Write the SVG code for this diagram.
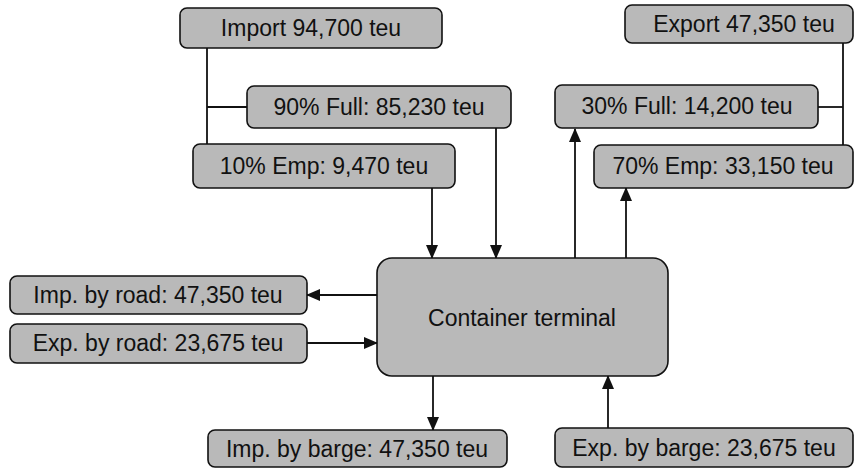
<svg xmlns="http://www.w3.org/2000/svg" width="855" height="469" viewBox="0 0 855 469">
<style>
.box{fill:#b9b9b9;stroke:#111;stroke-width:1.6}
.t{font-family:"Liberation Sans",Arial,sans-serif;font-size:23px;fill:#111;text-anchor:middle}
.c{fill:none;stroke:#111;stroke-width:1.8}
</style>
<defs>
<marker id="ah" markerUnits="userSpaceOnUse" markerWidth="14" markerHeight="14" viewBox="0 0 14 14" refX="13" refY="7" orient="auto">
<path d="M0,1 L14,7 L0,13 Z" fill="#111"/>
</marker>
</defs>
<rect width="855" height="469" fill="#fff"/>
<g id="connectors">
<polyline class="c" points="207,48 207,144"/>
<line class="c" x1="207" y1="107" x2="247" y2="107"/>
<polyline class="c" points="843,43 843,145"/>
<line class="c" x1="818" y1="107" x2="843" y2="107"/>
<line class="c" x1="432" y1="188" x2="432" y2="258" marker-end="url(#ah)"/>
<line class="c" x1="496" y1="128" x2="496" y2="258" marker-end="url(#ah)"/>
<line class="c" x1="575" y1="258" x2="575" y2="129" marker-end="url(#ah)"/>
<line class="c" x1="626" y1="258" x2="626" y2="188" marker-end="url(#ah)"/>
<line class="c" x1="377" y1="295" x2="307" y2="295" marker-end="url(#ah)"/>
<line class="c" x1="307" y1="343" x2="377" y2="343" marker-end="url(#ah)"/>
<line class="c" x1="433" y1="376" x2="433" y2="430" marker-end="url(#ah)"/>
<line class="c" x1="608" y1="428" x2="608" y2="376" marker-end="url(#ah)"/>
</g>
<g id="import"><rect class="box" x="180" y="8" width="262" height="40" rx="7"/><text class="t" x="311" y="36">Import 94,700 teu</text></g>
<g id="full90"><rect class="box" x="247" y="86" width="264" height="42" rx="7"/><text class="t" x="379" y="115">90% Full: 85,230 teu</text></g>
<g id="emp10"><rect class="box" x="193" y="144" width="262" height="44" rx="7"/><text class="t" x="324" y="174">10% Emp: 9,470 teu</text></g>
<g id="export"><rect class="box" x="625" y="5" width="228" height="38" rx="7"/><text class="t" x="744" y="32">Export 47,350 teu</text></g>
<g id="full30"><rect class="box" x="555" y="85" width="263" height="43" rx="7"/><text class="t" x="687" y="114">30% Full: 14,200 teu</text></g>
<g id="emp70"><rect class="box" x="594" y="145" width="259" height="43" rx="7"/><text class="t" x="723" y="174">70% Emp: 33,150 teu</text></g>
<g id="terminal"><rect class="box" x="377" y="258" width="291" height="118" rx="15"/><text class="t" x="522" y="326">Container terminal</text></g>
<g id="improad"><rect class="box" x="10" y="276" width="297" height="38" rx="7"/><text class="t" x="158" y="303">Imp. by road: 47,350 teu</text></g>
<g id="exproad"><rect class="box" x="10" y="324" width="297" height="39" rx="7"/><text class="t" x="158" y="351">Exp. by road: 23,675 teu</text></g>
<g id="impbarge"><rect class="box" x="208" y="430" width="299" height="37" rx="7"/><text class="t" x="357" y="457">Imp. by barge: 47,350 teu</text></g>
<g id="expbarge"><rect class="box" x="555" y="428" width="298" height="39" rx="7"/><text class="t" x="704" y="456">Exp. by barge: 23,675 teu</text></g>
</svg>
